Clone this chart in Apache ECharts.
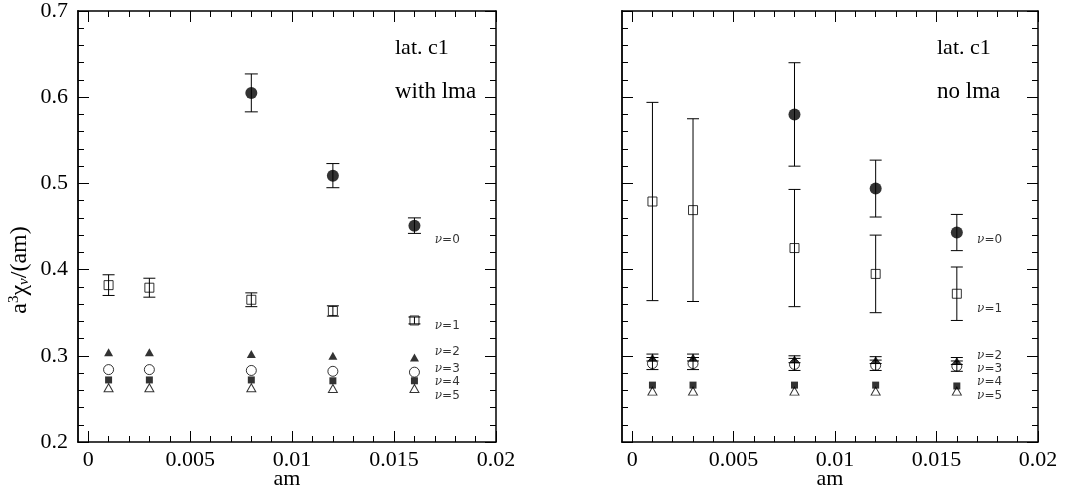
<!DOCTYPE html>
<html>
<head>
<meta charset="utf-8">
<script src="https://cdn.jsdelivr.net/npm/echarts@6/dist/echarts.min.js"></script>
<style>
html,body{margin:0;padding:0;background:#fff;}
#chart{width:1083px;height:489px;}
</style>
</head>
<body>
<div id="chart"></div>
<script>
// ---------- data ----------
const amValues = [0.001, 0.003, 0.008, 0.012, 0.016];
const amNu0 = [0.008, 0.012, 0.016];

// left panel: with lma
const lmaNu0 = [0.605, 0.509, 0.451];
const lmaNu0Err = [0.022, 0.014, 0.009];
const lmaNu1 = [0.382, 0.379, 0.365, 0.352, 0.341];
const lmaNu1Err = [0.012, 0.011, 0.008, 0.006, 0.004];
const lmaNu2 = [0.304, 0.304, 0.302, 0.300, 0.298];
const lmaNu3 = [0.284, 0.284, 0.283, 0.282, 0.281];
const lmaNu4 = [0.272, 0.272, 0.272, 0.271, 0.271];
const lmaNu5 = [0.263, 0.263, 0.263, 0.262, 0.262];

// right panel: no lma
const noNu0 = [0.580, 0.494, 0.443];
const noNu0Err = [0.060, 0.033, 0.021];
const noNu1 = [0.479, 0.469, 0.425, 0.395, 0.372];
const noNu1Err = [0.115, 0.106, 0.068, 0.045, 0.031];
const noNu2 = [0.298, 0.298, 0.296, 0.295, 0.294];
const noNu2Err = [0.004, 0.004, 0.004, 0.004, 0.004];
const noNu3 = [0.291, 0.291, 0.290, 0.289, 0.288];
const noNu3Err = [0.007, 0.007, 0.007, 0.006, 0.006];
const noNu4 = [0.266, 0.266, 0.266, 0.266, 0.265];
const noNu5 = [0.259, 0.259, 0.259, 0.259, 0.259];

// annotation labels
const nuNames = ['0', '1', '2', '3', '4', '5'];
const nuLabelX = 0.0170;
const nuLabelYLeft = [0.434, 0.335, 0.305, 0.285, 0.270, 0.254];
const nuLabelYRight = [0.434, 0.3545, 0.300, 0.285, 0.270, 0.254];
const panelTitles = [['lat. c1', 'with lma'], ['lat. c1', 'no lma']];

// axes
const xTickValues = [0, 0.005, 0.01, 0.015, 0.02];
const xTickLabels = ['0', '0.005', '0.01', '0.015', '0.02'];
const xMinorValues = [0.001, 0.002, 0.003, 0.004, 0.006, 0.007, 0.008, 0.009,
  0.011, 0.012, 0.013, 0.014, 0.016, 0.017, 0.018, 0.019];
const yTickValues = [0.2, 0.3, 0.4, 0.5, 0.6, 0.7];
const yTickLabels = ['0.2', '0.3', '0.4', '0.5', '0.6', '0.7'];

// ---------- chart ----------
const FONT = 'Liberation Serif';
const grids = [
  {left: 78, top: 11, width: 418, height: 431},
  {left: 622, top: 11, width: 416, height: 431}
];

function labelFor(vals, labels, v) {
  let best = 0;
  for (let i = 1; i < vals.length; i++) if (Math.abs(vals[i] - v) < Math.abs(vals[best] - v)) best = i;
  return labels[best];
}

const xAxes = [], yAxes = [];
grids.forEach((g, gi) => {
  const base = {type: 'value', gridIndex: gi, min: -0.0005, max: 0.02, splitLine: {show: false}};
  xAxes.push(Object.assign({}, base, {
    position: 'bottom',
    axisLine: {show: true, onZero: false, lineStyle: {color: '#000', width: 1.5}},
    axisTick: {show: true, inside: true, length: 11, customValues: xTickValues, lineStyle: {color: '#000', width: 1}},
    axisLabel: {show: true, customValues: xTickValues, margin: 7, color: '#000', fontFamily: FONT, fontSize: 22,
      formatter: v => labelFor(xTickValues, xTickLabels, v)}
  }));
  xAxes.push(Object.assign({}, base, {
    position: 'bottom',
    axisLine: {show: false, onZero: false},
    axisTick: {show: true, inside: true, length: 6, customValues: xMinorValues, lineStyle: {color: '#000', width: 1}},
    axisLabel: {show: false}
  }));
  xAxes.push(Object.assign({}, base, {
    position: 'top',
    axisLine: {show: true, onZero: false, lineStyle: {color: '#000', width: 1.5}},
    axisTick: {show: true, inside: true, length: 11, customValues: xTickValues, lineStyle: {color: '#000', width: 1}},
    axisLabel: {show: false}
  }));
  xAxes.push(Object.assign({}, base, {
    position: 'top',
    axisLine: {show: false, onZero: false},
    axisTick: {show: true, inside: true, length: 6, customValues: xMinorValues, lineStyle: {color: '#000', width: 1}},
    axisLabel: {show: false}
  }));

  const ybase = {type: 'value', gridIndex: gi, min: 0.2, max: 0.7, interval: 0.1, splitLine: {show: false},
    minorSplitLine: {show: false}};
  yAxes.push(Object.assign({}, ybase, {
    position: 'left',
    axisLine: {show: true, onZero: false, lineStyle: {color: '#000', width: 1.8}},
    axisTick: {show: true, inside: true, length: 11, lineStyle: {color: '#000', width: 1}},
    minorTick: {show: true, splitNumber: 5, length: 6, lineStyle: {color: '#000', width: 1}},
    axisLabel: {show: gi === 0, margin: 10, color: '#000', fontFamily: FONT, fontSize: 22,
      formatter: v => labelFor(yTickValues, yTickLabels, v)}
  }));
  yAxes.push(Object.assign({}, ybase, {
    position: 'right',
    axisLine: {show: true, onZero: false, lineStyle: {color: '#000', width: 1.5}},
    axisTick: {show: true, inside: true, length: 11, lineStyle: {color: '#000', width: 1}},
    minorTick: {show: true, splitNumber: 5, length: 6, lineStyle: {color: '#000', width: 1}},
    axisLabel: {show: false}
  }));
});

function pts(xs, ys) { return xs.map((x, i) => [x, ys[i]]); }
function errPts(xs, ys, es) { return xs.map((x, i) => [x, ys[i] - es[i], ys[i] + es[i]]); }

function errorSeries(gi, data, cap) {
  return {
    type: 'custom', xAxisIndex: gi * 4, yAxisIndex: gi * 2, z: 2, silent: true,
    encode: {x: 0, y: [1, 2]},
    data: data,
    renderItem: function (params, api) {
      const x = api.value(0), lo = api.value(1), hi = api.value(2);
      const a = api.coord([x, hi]), b = api.coord([x, lo]);
      const st = {stroke: '#000', lineWidth: 1};
      return {type: 'group', children: [
        {type: 'line', shape: {x1: a[0], y1: a[1], x2: b[0], y2: b[1]}, style: st},
        {type: 'line', shape: {x1: a[0] - cap, y1: a[1], x2: a[0] + cap, y2: a[1]}, style: st},
        {type: 'line', shape: {x1: b[0] - cap, y1: b[1], x2: b[0] + cap, y2: b[1]}, style: st}
      ]};
    }
  };
}

const FILLED = {color: '#000'};
const OPEN = {color: 'rgba(0,0,0,0)', borderColor: '#000', borderWidth: 1};
function scatter(gi, data, symbol, size, style) {
  return {
    type: 'scatter', xAxisIndex: gi * 4, yAxisIndex: gi * 2, z: 3, silent: true,
    symbol: symbol, symbolSize: size, itemStyle: style, data: data
  };
}

function nuLabelSeries(gi, ys) {
  return {
    type: 'scatter', xAxisIndex: gi * 4, yAxisIndex: gi * 2, z: 4, silent: true,
    symbolSize: 0,
    data: ys.map((y, i) => ({value: [nuLabelX, y], name: nuNames[i]})),
    label: {
      show: true, position: 'right', distance: 0,
      formatter: p => '{n|ν}{e|=' + p.name + '}',
      rich: {
        n: {fontFamily: 'DejaVu Serif', fontStyle: 'italic', fontSize: 12, color: '#000'},
        e: {fontFamily: 'DejaVu Sans', fontSize: 12, color: '#000'}
      }
    }
  };
}

const series = [
  errorSeries(0, errPts(amNu0, lmaNu0, lmaNu0Err), 6.5),
  errorSeries(0, errPts(amValues, lmaNu1, lmaNu1Err), 6),
  scatter(0, pts(amNu0, lmaNu0), 'circle', 12, FILLED),
  scatter(0, pts(amValues, lmaNu1), 'rect', 9, OPEN),
  scatter(0, pts(amValues, lmaNu2), 'triangle', [9, 8], FILLED),
  scatter(0, pts(amValues, lmaNu3), 'circle', 10, OPEN),
  scatter(0, pts(amValues, lmaNu4), 'rect', 7, FILLED),
  scatter(0, pts(amValues, lmaNu5), 'triangle', [9, 8], OPEN),
  nuLabelSeries(0, nuLabelYLeft),
  errorSeries(1, errPts(amNu0, noNu0, noNu0Err), 6),
  errorSeries(1, errPts(amValues, noNu1, noNu1Err), 6),
  errorSeries(1, errPts(amValues, noNu2, noNu2Err), 6),
  errorSeries(1, errPts(amValues, noNu3, noNu3Err), 6),
  scatter(1, pts(amNu0, noNu0), 'circle', 12, FILLED),
  scatter(1, pts(amValues, noNu1), 'rect', 9, OPEN),
  scatter(1, pts(amValues, noNu3), 'circle', 10, OPEN),
  scatter(1, pts(amValues, noNu2), 'triangle', [9, 8], FILLED),
  scatter(1, pts(amValues, noNu4), 'rect', 7, FILLED),
  scatter(1, pts(amValues, noNu5), 'triangle', [9, 8], OPEN),
  nuLabelSeries(1, nuLabelYRight)
];

const textStyle = {fontFamily: FONT, fontSize: 22, fill: '#000'};
const graphic = [
  {type: 'text', left: 395, top: 37, style: Object.assign({text: panelTitles[0][0]}, textStyle)},
  {type: 'text', left: 395, top: 80, style: Object.assign({text: panelTitles[0][1]}, textStyle, {fontSize: 23})},
  {type: 'text', left: 937, top: 37, style: Object.assign({text: panelTitles[1][0]}, textStyle)},
  {type: 'text', left: 937, top: 80, style: Object.assign({text: panelTitles[1][1]}, textStyle, {fontSize: 23})},
  {type: 'text', x: 287, y: 479, style: Object.assign({text: 'am', align: 'center', verticalAlign: 'middle'}, textStyle)},
  {type: 'text', x: 830, y: 479, style: Object.assign({text: 'am', align: 'center', verticalAlign: 'middle'}, textStyle)},
  {type: 'text', x: 20, y: 270, rotation: Math.PI / 2,
    style: Object.assign({}, textStyle, {
      text: 'a{sup|3}χ{sub|ν}/(am)', align: 'center', verticalAlign: 'middle', fontSize: 24,
      rich: {
        sup: {fontFamily: FONT, fontSize: 15, padding: [0, 0, 11, 0], fill: '#000'},
        sub: {fontFamily: FONT, fontSize: 15, fontStyle: 'italic', padding: [9, 0, 0, 0], fill: '#000'}
      }
    })}
];

const chart = echarts.init(document.getElementById('chart'), null, {renderer: 'canvas'});
chart.setOption({
  animation: false,
  backgroundColor: '#fff',
  grid: grids,
  xAxis: xAxes,
  yAxis: yAxes,
  series: series,
  graphic: graphic
});
</script>
</body>
</html>
